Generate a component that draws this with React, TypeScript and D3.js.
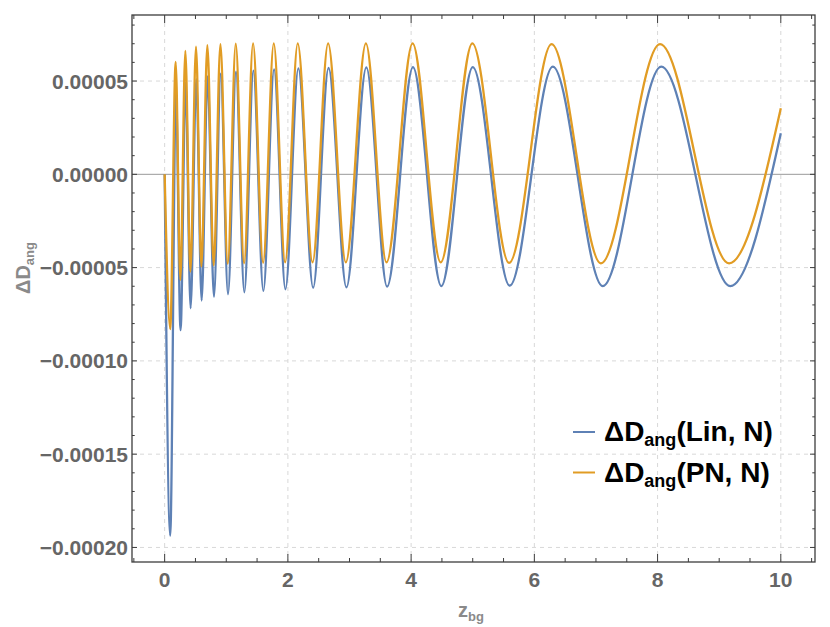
import React from "react";
import * as d3 from "d3";

// ΔD_ang(Lin, N): start, extrema and end
const linZ = [0, 0.09, 0.183, 0.258, 0.34, 0.421, 0.513, 0.6, 0.697, 0.8, 0.91, 1.028, 1.158, 1.293, 1.44, 1.602, 1.776, 1.96, 2.17, 2.41, 2.66, 2.95, 3.273, 3.61, 4.03, 4.49, 5.0, 5.6, 6.3, 7.11, 8.06, 9.18, 10];
const linD = [0, -19.37, 4.4, -8.35, 4.9, -7.18, 5.1, -6.77, 5.25, -6.56, 5.4, -6.43, 5.5, -6.32, 5.56, -6.25, 5.63, -6.16, 5.68, -6.08, 5.7, -6.06, 5.73, -6.02, 5.75, -5.99, 5.75, -5.97, 5.77, -5.99, 5.77, -5.99, 2.2];

// ΔD_ang(PN, N)
const pnZ = [0, 0.09, 0.179, 0.255, 0.336, 0.418, 0.509, 0.596, 0.693, 0.796, 0.905, 1.024, 1.154, 1.289, 1.435, 1.598, 1.771, 1.955, 2.16, 2.4, 2.653, 2.94, 3.266, 3.6, 4.024, 4.48, 4.993, 5.59, 6.28, 7.08, 8.04, 9.16, 10];
const pnD = [0, -8.3, 6.03, -5.66, 6.62, -5.22, 6.84, -4.95, 6.93, -4.88, 6.98, -4.8, 7.0, -4.77, 7.02, -4.74, 7.02, -4.72, 7.02, -4.72, 7.02, -4.72, 7.02, -4.72, 7.02, -4.72, 7.02, -4.75, 6.98, -4.77, 6.98, -4.77, 3.54];

const yUnit = 1e-5;

const xTicks = [0, 2, 4, 6, 8, 10];
const yTicks = [0.00005, 0, -0.00005, -0.0001, -0.00015, -0.0002];
const yTickLabels = ["0.00005", "0.00000", "\u22120.00005", "\u22120.00010", "\u22120.00015", "\u22120.00020"];

const seriesNames = ["(Lin, N)", "(PN, N)"];
const colors = ["#5e81b5", "#e19c24"];

const W = 830;
const H = 627;
const left = 132;
const right = 815;
const top = 15;
const bottom = 562;

const font = "'Liberation Sans', Arial, sans-serif";

export default function App() {
  const x = d3.scaleLinear().domain([-0.53, 10.555]).range([left, right]);
  const y = d3.scaleLinear().domain([-0.0002078, 0.0000854]).range([bottom, top]);

  const line = d3
    .line<[number, number]>()
    .x((d) => x(d[0]))
    .y((d) => y(d[1] * yUnit))
    .curve(d3.curveMonotoneX);

  const linPath = line(linZ.map((z, i) => [z, linD[i]] as [number, number])) || "";
  const pnPath = line(pnZ.map((z, i) => [z, pnD[i]] as [number, number])) || "";

  const xMinor = d3.range(-0.5, 10.51, 0.5).filter((v) => !xTicks.includes(v));
  const yMinor = d3
    .range(-20, 9, 1)
    .filter((v) => v % 5 !== 0)
    .map((v) => v * yUnit);

  const frameColor = "#3c3c3c";
  const gridColor = "#d8d8d8";

  return (
    <svg
      width={W}
      height={H}
      viewBox={`0 0 ${W} ${H}`}
      style={{ position: "absolute", left: 0, top: 0, background: "#fff" }}
    >
      <defs>
        <clipPath id="plot">
          <rect x={left} y={top} width={right - left} height={bottom - top} />
        </clipPath>
      </defs>

      {/* grid */}
      <g stroke={gridColor} strokeWidth={1} strokeDasharray="4,4">
        {xTicks.map((t) => (
          <line key={"gx" + t} x1={x(t)} x2={x(t)} y1={top} y2={bottom} />
        ))}
        {yTicks
          .filter((t) => t !== 0)
          .map((t) => (
            <line key={"gy" + t} x1={left} x2={right} y1={y(t)} y2={y(t)} />
          ))}
      </g>
      <line x1={left} x2={right} y1={y(0)} y2={y(0)} stroke="#9a9a9a" strokeWidth={1} />

      {/* curves */}
      <g clipPath="url(#plot)" fill="none" strokeWidth={2.3} strokeLinejoin="round">
        <path d={linPath} stroke={colors[0]} />
        <path d={pnPath} stroke={colors[1]} />
      </g>

      {/* frame */}
      <rect
        x={left}
        y={top}
        width={right - left}
        height={bottom - top}
        fill="none"
        stroke={frameColor}
        strokeWidth={1.3}
      />
      <g stroke={frameColor} strokeWidth={1}>
        {xTicks.map((t) => (
          <g key={"xt" + t}>
            <line x1={x(t)} x2={x(t)} y1={bottom} y2={bottom - 8} />
            <line x1={x(t)} x2={x(t)} y1={top} y2={top + 8} />
          </g>
        ))}
        {xMinor.map((t) => (
          <g key={"xm" + t}>
            <line x1={x(t)} x2={x(t)} y1={bottom} y2={bottom - 4} />
            <line x1={x(t)} x2={x(t)} y1={top} y2={top + 4} />
          </g>
        ))}
        {yTicks.map((t) => (
          <g key={"yt" + t}>
            <line x1={left} x2={left + 5} y1={y(t)} y2={y(t)} />
            <line x1={right} x2={right - 5} y1={y(t)} y2={y(t)} />
          </g>
        ))}
        {yMinor.map((t) => (
          <g key={"ym" + t}>
            <line x1={left} x2={left + 2.7} y1={y(t)} y2={y(t)} />
            <line x1={right} x2={right - 2.7} y1={y(t)} y2={y(t)} />
          </g>
        ))}
      </g>

      {/* tick labels */}
      <g fontFamily={font} fontWeight="bold" fontSize={21} fill="#666">
        {xTicks.map((t) => (
          <text key={"xl" + t} x={x(t)} y={587} textAnchor="middle">
            {t}
          </text>
        ))}
        {yTicks.map((t, i) => (
          <text key={"yl" + t} x={128} y={y(t) + 7.5} textAnchor="end">
            {yTickLabels[i]}
          </text>
        ))}
      </g>

      {/* axis labels */}
      <text x={458} y={617} fontFamily={font} fontWeight="bold" fontSize={20} fill="#8a8a8a">
        z
        <tspan fontSize={13} dy={4}>
          bg
        </tspan>
      </text>
      <text
        transform="translate(30,268) rotate(-90)"
        textAnchor="middle"
        fontFamily={font}
        fontWeight="bold"
        fontSize={20}
        fill="#8a8a8a"
      >
        ΔD
        <tspan fontSize={13} dy={4}>
          ang
        </tspan>
      </text>

      {/* legend */}
      {seriesNames.map((name, i) => {
        const ly = 432 + i * 40.5;
        return (
          <g key={name}>
            <line x1={573} x2={595} y1={ly} y2={ly} stroke={colors[i]} strokeWidth={2} />
            <text x={604} y={ly + 9} fontFamily={font} fontWeight="bold" fontSize={28} fill="#000">
              ΔD
              <tspan fontSize={18} dy={5}>
                ang
              </tspan>
              <tspan dy={-5}>{name}</tspan>
            </text>
          </g>
        );
      })}
    </svg>
  );
}
